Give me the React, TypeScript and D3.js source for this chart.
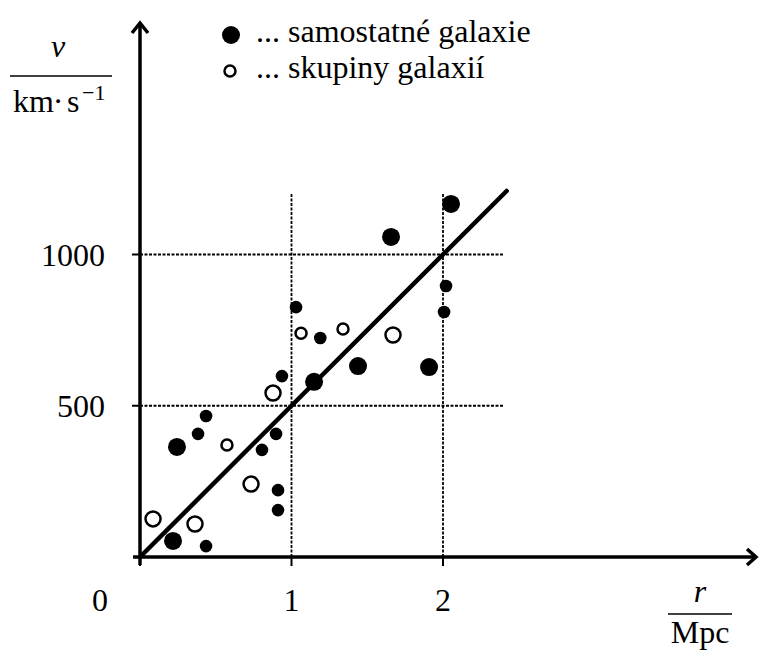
import React from "react";
import * as d3 from "d3";

// samostatné galaxie (filled) : r in Mpc, v in km/s, size L/S
const singleR = [0.244, 0.218, 1.149, 1.439, 1.908, 1.657, 2.053, 1.03, 1.19, 0.937, 0.436, 0.383, 0.898, 0.805, 0.911, 0.911, 0.436, 2.02, 2.007];
const singleV = [364, 53, 579, 631, 628, 1058, 1167, 826, 724, 598, 466, 407, 407, 354, 221, 155, 36, 896, 810];
const singleSize = ["L", "L", "L", "L", "L", "L", "L", "S", "S", "S", "S", "S", "S", "S", "S", "S", "S", "S", "S"];

// skupiny galaxií (open)
const groupR = [0.086, 0.363, 0.574, 0.733, 0.878, 1.063, 1.34, 1.67];
const groupV = [126, 109, 370, 241, 542, 740, 754, 734];
const groupSize = ["L", "L", "S", "L", "L", "S", "S", "L"];

const xTicks = [0, 1, 2];
const yTicks = [500, 1000];
const fitLine: [number, number][] = [[0, 0], [2.42, 1210]];

const FONT = "Liberation Serif";

const x = d3.scaleLinear().domain([0, 1]).range([140, 291.5]);
const y = d3.scaleLinear().domain([0, 1000]).range([557, 254.5]);
const line = d3.line<[number, number]>().x(d => x(d[0])).y(d => y(d[1]));

const T = ({ x: tx, y: ty, size = 32, anchor = "start", italic = false, children }: any) => (
  <text x={tx} y={ty} fontSize={size} textAnchor={anchor} fontFamily={FONT}
    fontStyle={italic ? "italic" : "normal"} style={{ fontFamily: FONT }}>
    {children}
  </text>
);

const App = () => {
  const single = singleR.map((r, i) => ({ r, v: singleV[i], s: singleSize[i] }));
  const group = groupR.map((r, i) => ({ r, v: groupV[i], s: groupSize[i] }));
  const dash = { stroke: "#000", strokeWidth: 1.8, strokeDasharray: "3,1.5" };

  return (
    <svg width={759} height={651}
      style={{ position: "absolute", left: 0, top: 0, background: "#fff", fontFamily: FONT }}>
      {/* dashed helper lines */}
      {yTicks.map(t => (
        <line key={"h" + t} x1={x(0)} x2={x(2.4)} y1={y(t)} y2={y(t)} {...dash} />
      ))}
      {xTicks.filter(t => t > 0).map(t => (
        <line key={"v" + t} x1={x(t)} x2={x(t)} y1={y(0)} y2={y(1205)} {...dash} />
      ))}

      {/* axes */}
      <line x1={x(0) - 7} x2={755} y1={y(0)} y2={y(0)} stroke="#000" strokeWidth={3.5} />
      <line x1={x(0)} x2={x(0)} y1={y(0) + 8} y2={24} stroke="#000" strokeWidth={3.5} />
      <path d="M747,549 L756,557 L747,565" fill="none" stroke="#000" strokeWidth={3.5} />
      <path d="M132,33 L140,23 L148,33" fill="none" stroke="#000" strokeWidth={3.5} />

      {/* ticks */}
      {xTicks.map(t => (
        <line key={"xt" + t} x1={x(t)} x2={x(t)} y1={y(0)} y2={y(0) + 9} stroke="#000" strokeWidth={2} />
      ))}
      {yTicks.map(t => (
        <line key={"yt" + t} x1={x(0) - 8} x2={x(0)} y1={y(t)} y2={y(t)} stroke="#000" strokeWidth={2} />
      ))}

      {/* tick labels */}
      {xTicks.map(t => (
        <T key={"xl" + t} x={t === 0 ? 100 : x(t)} y={611} anchor="middle">{String(t)}</T>
      ))}
      {yTicks.map(t => (
        <T key={"yl" + t} x={105} y={y(t) + 11} anchor="end">{String(t)}</T>
      ))}

      {/* fit line */}
      <path d={line(fitLine) || ""} stroke="#000" strokeWidth={4.5} strokeLinecap="round" fill="none" />

      {/* points */}
      {single.map((d, i) => (
        <circle key={"s" + i} cx={x(d.r)} cy={y(d.v)} r={d.s === "L" ? 9 : 6.3} fill="#000" />
      ))}
      {group.map((d, i) => (
        <circle key={"g" + i} cx={x(d.r)} cy={y(d.v)} r={d.s === "L" ? 7.5 : 5.5}
          fill="#fff" stroke="#000" strokeWidth={2.5} />
      ))}

      {/* legend */}
      <circle cx={231} cy={35} r={9} fill="#000" />
      <circle cx={230} cy={71} r={5.5} fill="#fff" stroke="#000" strokeWidth={2.5} />
      <T x={256} y={42}>... samostatné galaxie</T>
      <T x={256} y={78}>... skupiny galaxií</T>

      {/* y axis label */}
      <T x={58} y={57} anchor="middle" italic>v</T>
      <line x1={10} x2={112} y1={76} y2={76} stroke="#000" strokeWidth={1.5} />
      <T x={13} y={112}>km</T>
      <T x={58} y={112} anchor="middle">·</T>
      <T x={67} y={112}>s</T>
      <T x={82} y={100} size={22}>−1</T>

      {/* x axis label */}
      <T x={700} y={602} anchor="middle" italic>r</T>
      <line x1={668} x2={732} y1={614} y2={614} stroke="#000" strokeWidth={1.5} />
      <T x={700} y={643} anchor="middle">Mpc</T>
    </svg>
  );
};

export default App;
